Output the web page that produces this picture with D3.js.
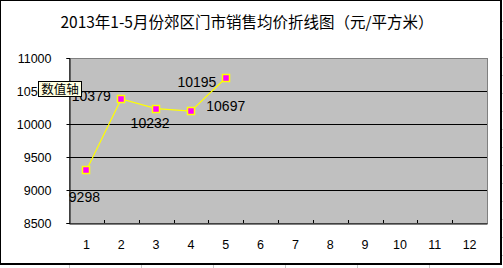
<!DOCTYPE html>
<html>
<head>
<meta charset="utf-8">
<script src="https://cdn.jsdelivr.net/npm/d3@7"></script>
<style>
  html, body { margin: 0; padding: 0; background: #fff; }
  svg { display: block; }
</style>
</head>
<body>
<svg id="chart" width="503" height="268"></svg>
<script>
// Monthly average price of suburban storefronts, 2013 (yuan / m²)
const title = "2013年1-5月份郊区门市销售均价折线图（元/平方米）";
const months = ["1", "2", "3", "4", "5", "6", "7", "8", "9", "10", "11", "12"];
const prices = [9298, 10379, 10232, 10195, 10697];
const yTicks = [8500, 9000, 9500, 10000, 10500, 11000];
const tipText = "数值轴";

// label placement relative to each point: [dx to text centre, dy to baseline]
const labelOffsets = [[-2, 32], [-30, 2], [-6, 19], [6, -24], [0, 33]];

const svg = d3.select("#chart");
const W = 503, H = 268;
const plot = { left: 69, right: 487, top: 58, bottom: 223 };

// faint worksheet cell lines peeking out around the chart frame
const sheet = svg.append("g").attr("stroke", "#c8c8c8").attr("stroke-width", 1);
[69, 141, 213, 285, 357, 429].forEach(x => {
  sheet.append("line").attr("x1", x + 0.5).attr("x2", x + 0.5).attr("y1", 265).attr("y2", H);
});
[21, 39, 57, 75, 93, 111, 129, 147, 165, 183, 201, 219, 237, 255].forEach(y => {
  sheet.append("line").attr("x1", 502).attr("x2", W).attr("y1", y + 0.5).attr("y2", y + 0.5);
});

// chart frame
svg.append("rect")
  .attr("x", 0.5).attr("y", 0.5).attr("width", 500).attr("height", 263)
  .attr("fill", "#fff").attr("stroke", "#000").attr("stroke-width", 1);
svg.append("line").attr("x1", 0).attr("x2", 502).attr("y1", 264.5).attr("y2", 264.5).attr("stroke", "#000");
svg.append("line").attr("x1", 501.5).attr("x2", 501.5).attr("y1", 0).attr("y2", 265).attr("stroke", "#000");

// title
svg.append("text")
  .attr("x", 247).attr("y", 28)
  .attr("text-anchor", "middle")
  .attr("font-family", "'Noto Sans CJK SC', sans-serif")
  .attr("font-size", 15.5)
  .attr("fill", "#000")
  .text(title);

const x = d3.scaleBand().domain(months).range([plot.left, plot.right]).padding(0);
const y = d3.scaleLinear().domain([8500, 11000]).range([plot.bottom, plot.top]);

// plot area
svg.append("rect")
  .attr("x", plot.left + 0.5).attr("y", plot.top + 0.5)
  .attr("width", plot.right - plot.left).attr("height", plot.bottom - plot.top)
  .attr("fill", "#c0c0c0").attr("stroke", "#808080");

// horizontal gridlines
svg.append("g").selectAll("line")
  .data(yTicks.slice(1, -1).concat([11000]))
  .join("line")
  .attr("x1", plot.left).attr("x2", plot.right)
  .attr("y1", d => Math.round(y(d)) + 0.5).attr("y2", d => Math.round(y(d)) + 0.5)
  .attr("stroke", d => d === 11000 ? "#808080" : "#000");

// y axis
const yAxis = svg.append("g")
  .attr("transform", `translate(${plot.left + 0.5},0)`)
  .call(d3.axisLeft(y).tickValues(yTicks).tickSize(3).tickPadding(15).tickFormat(d3.format("d")));
yAxis.select(".domain").attr("stroke", "#000");
yAxis.selectAll(".tick line").attr("stroke", "#000");
yAxis.selectAll(".tick text")
  .attr("font-family", "'Liberation Sans', Arial, sans-serif")
  .attr("font-size", 12.5).attr("fill", "#000");

// x axis, ticks pointing into the plot
const xAxis = svg.append("g")
  .attr("transform", `translate(0,${plot.bottom + 0.5})`)
  .call(d3.axisBottom(x).tickSize(0).tickPadding(17));
xAxis.select(".domain").attr("stroke", "#000");
xAxis.selectAll(".tick text")
  .attr("font-family", "'Liberation Sans', Arial, sans-serif")
  .attr("font-size", 12.5).attr("fill", "#000");
svg.append("g").selectAll("line")
  .data(months.slice(1))
  .join("line")
  .attr("x1", d => Math.round(x(d)) + 0.5).attr("x2", d => Math.round(x(d)) + 0.5)
  .attr("y1", plot.bottom).attr("y2", plot.bottom - 3)
  .attr("stroke", "#000");

// price line
const pts = prices.map((v, i) => [x(months[i]) + x.bandwidth() / 2, y(v)]);
svg.append("path")
  .datum(pts)
  .attr("d", d3.line())
  .attr("fill", "none").attr("stroke", "#ffff00").attr("stroke-width", 1.2);

// markers
svg.append("g").selectAll("rect")
  .data(pts)
  .join("rect")
  .attr("x", d => Math.round(d[0]) - 3.5).attr("y", d => Math.round(d[1]) - 3.5)
  .attr("width", 7).attr("height", 7)
  .attr("fill", "#ff00ff").attr("stroke", "#ffff00").attr("stroke-width", 1.5);

// value labels
svg.append("g").selectAll("text")
  .data(prices)
  .join("text")
  .attr("x", (d, i) => pts[i][0] + labelOffsets[i][0])
  .attr("y", (d, i) => pts[i][1] + labelOffsets[i][1])
  .attr("text-anchor", "middle")
  .attr("font-family", "'Liberation Sans', Arial, sans-serif")
  .attr("font-size", 14).attr("fill", "#000")
  .text(d => d);

// hover tip over the value axis
const tip = svg.append("g");
tip.append("rect")
  .attr("x", 38.5).attr("y", 81.5).attr("width", 43).attr("height", 15)
  .attr("fill", "#ffffe1").attr("stroke", "#000");
tip.append("text")
  .attr("x", 60).attr("y", 93.5)
  .attr("text-anchor", "middle")
  .attr("font-family", "'Noto Sans CJK SC', sans-serif")
  .attr("font-size", 12.5).attr("fill", "#000")
  .text(tipText);
</script>
</body>
</html>
